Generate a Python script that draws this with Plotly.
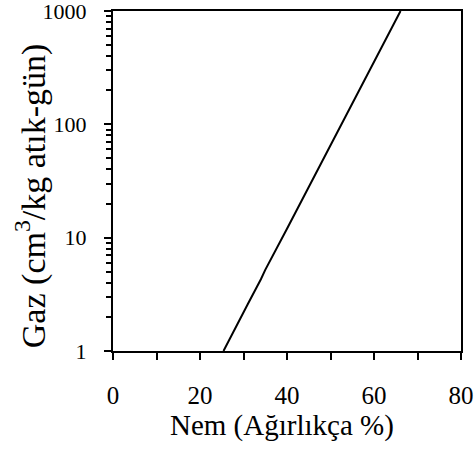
import plotly.graph_objects as go

nem = [25.4, 28, 31, 34, 35, 40, 45, 50, 55, 60, 63, 66.1]
gaz = [1.0, 1.58, 2.6, 4.3, 5.2, 12, 28, 65, 152, 356, 590, 1000]

x_tickvals = [0, 10, 20, 30, 40, 50, 60, 70, 80]
x_ticktext = ["0", "", "20", "", "40", "", "60", "", "80"]
x_title = "Nem (Ağırlıkça %)"
y_title = "Gaz (cm<sup>3</sup>/kg atık-gün)"

fig = go.Figure(go.Scatter(x=nem, y=gaz, mode="lines",
                           line=dict(color="black", width=2), showlegend=False))

ff = "Liberation Serif, Times New Roman, serif"
fig.update_layout(
    width=474, height=452,
    margin=dict(l=113, r=13, t=11, b=101),
    paper_bgcolor="white", plot_bgcolor="white",
    font=dict(family=ff, color="black", size=24),
)
fig.update_xaxes(
    range=[0, 80], tickvals=x_tickvals, ticktext=x_ticktext, ticks="outside",
    ticklen=7, tickwidth=2, tickcolor="black", showline=True, linecolor="black",
    linewidth=2, mirror=True, showgrid=False, zeroline=False,
    tickfont=dict(size=25), ticklabelstandoff=14, automargin=False,
    ticklabeloverflow="allow",
)
fig.update_yaxes(
    type="log", range=[0, 3], dtick=1, ticks="outside", ticklen=7, tickwidth=2,
    tickcolor="black", showline=True, linecolor="black", linewidth=2, mirror=True,
    showgrid=False, zeroline=False, tickfont=dict(size=22), ticklabelstandoff=13,
    automargin=False, ticklabeloverflow="allow",
    minor=dict(ticks="outside", ticklen=5, tickwidth=1.5, tickcolor="black",
               dtick="D1", showgrid=False),
)
fig.add_annotation(text=x_title, xref="paper", yref="paper", x=0.485, y=-0.22,
                   xanchor="center", yanchor="middle", showarrow=False,
                   font=dict(size=29, family=ff, color="black"))
fig.add_annotation(text=y_title, xref="paper", yref="paper", x=-0.235, y=0.456,
                   xanchor="center", yanchor="middle", showarrow=False, textangle=-90,
                   font=dict(size=34, family=ff, color="black"))
fig.write_html("out.html", config={"displayModeBar": False},
               post_script="document.body.style.margin='0';")
